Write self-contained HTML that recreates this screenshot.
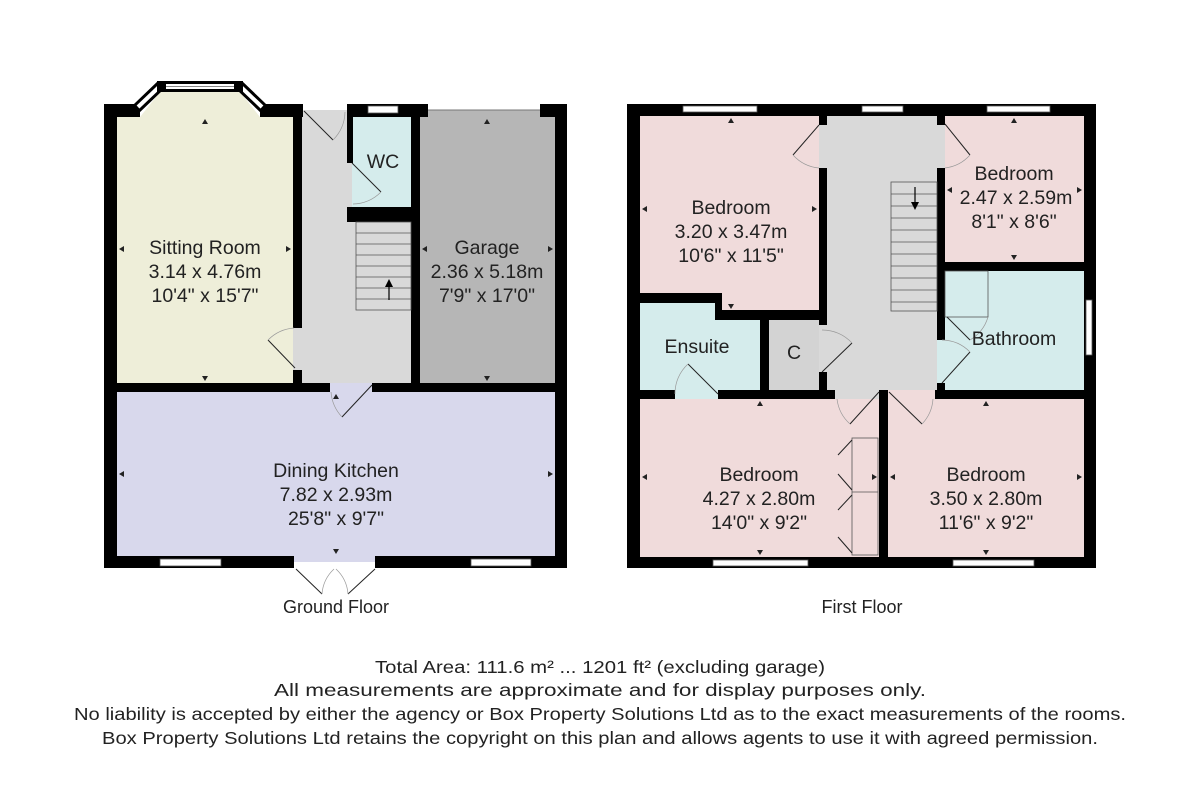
<!DOCTYPE html>
<html><head><meta charset="utf-8"><style>
html,body{margin:0;padding:0;background:#fff;}
svg{display:block;}
text{font-family:"Liberation Sans",Arial,sans-serif;fill:#222;text-anchor:middle;}
</style></head><body>
<svg width="1200" height="807" viewBox="0 0 1200 807" xmlns="http://www.w3.org/2000/svg">
<rect width="1200" height="807" fill="#fff"/>

<!-- ===== GROUND FLOOR ===== -->
<polygon points="117,117 140,117 160,92 240,92 260,117 293,117 293,383 117,383" fill="#eeeed9"/>
<rect x="293" y="110" width="119" height="273" fill="#d9d9d9"/>
<rect x="352" y="117" width="59" height="95" fill="#d5ecec"/>
<rect x="420" y="110" width="135" height="273" fill="#b6b6b6"/>
<rect x="117" y="383" width="438" height="173" fill="#d8d8ec"/>
<rect x="294" y="556" width="81" height="6" fill="#d8d8ec"/>

<g fill="#000">
<rect x="104" y="104" width="13" height="464"/>
<rect x="104" y="104" width="36" height="13"/>
<rect x="260" y="104" width="43" height="13"/>
<rect x="347" y="104" width="81" height="13"/>
<rect x="540" y="104" width="27" height="13"/>
<rect x="555" y="104" width="12" height="464"/>
<rect x="104" y="556" width="190" height="12"/>
<rect x="375" y="556" width="192" height="12"/>
<rect x="293" y="104" width="9" height="224"/>
<rect x="293" y="370" width="9" height="22"/>
<rect x="347" y="104" width="6" height="59"/>
<rect x="347" y="207" width="64" height="15"/>
<rect x="411" y="104" width="9" height="288"/>
<rect x="104" y="383" width="226" height="9"/>
<rect x="372" y="383" width="195" height="9"/>
</g>
<!-- bay window -->
<g stroke-linecap="butt">
<line x1="136" y1="109" x2="161" y2="85" stroke="#000" stroke-width="10"/>
<line x1="138" y1="107" x2="159" y2="87" stroke="#fff" stroke-width="4"/>
<line x1="264" y1="109" x2="239" y2="85" stroke="#000" stroke-width="10"/>
<line x1="262" y1="107" x2="241" y2="87" stroke="#fff" stroke-width="4"/>
<rect x="157" y="81" width="86" height="11" fill="#000"/>
<rect x="166" y="84" width="68" height="5" fill="#fff"/>
<rect x="166" y="86" width="68" height="1" fill="#888"/>
</g>
<g fill="#fff" stroke="#555" stroke-width="0.8">
<rect x="368" y="106" width="30" height="7"/>
<rect x="160" y="559" width="61" height="7"/>
<rect x="471" y="559" width="60" height="7"/>
</g>
<line x1="428" y1="110" x2="540" y2="110" stroke="#777" stroke-width="1"/>
<g stroke="#555" stroke-width="0.8" fill="none">
<rect x="356" y="222" width="55" height="88"/>
<line x1="356" y1="233" x2="411" y2="233"/><line x1="356" y1="244" x2="411" y2="244"/>
<line x1="356" y1="255" x2="411" y2="255"/><line x1="356" y1="266" x2="411" y2="266"/>
<line x1="356" y1="277" x2="411" y2="277"/><line x1="356" y1="288" x2="411" y2="288"/>
<line x1="356" y1="299" x2="411" y2="299"/>
</g>
<line x1="389" y1="300" x2="389" y2="283" stroke="#000" stroke-width="1.2"/>
<polygon points="389,279 385,287 393,287" fill="#000"/>
<g stroke="#222" stroke-width="1" fill="none">
<line x1="304" y1="111" x2="333" y2="140"/>
<line x1="352" y1="163" x2="381" y2="192"/>
<line x1="268" y1="340" x2="295" y2="368"/>
<line x1="372" y1="385" x2="342" y2="417"/>
<line x1="296" y1="569" x2="322" y2="594"/>
<line x1="375" y1="569" x2="348" y2="594"/>
</g>
<g stroke="#999" stroke-width="0.7" fill="none">
<path d="M333,140 A41,41 0 0 0 345,112"/>
<path d="M381,192 A41,41 0 0 1 353,204"/>
<path d="M268,340 A41,41 0 0 1 294,328"/>
<path d="M342,417 A41,41 0 0 1 331,392"/>
<path d="M322,594 A38,38 0 0 1 334,569"/>
<path d="M348,594 A38,38 0 0 0 336,569"/>
</g>
<g fill="#222">
<polygon points="205,119 202,124 208,124"/><polygon points="205,381 202,376 208,376"/>
<polygon points="119,249 124,246 124,252"/><polygon points="291,249 286,246 286,252"/>
<polygon points="487,119 484,124 490,124"/><polygon points="487,381 484,376 490,376"/>
<polygon points="422,249 427,246 427,252"/><polygon points="553,249 548,246 548,252"/>
<polygon points="336,394 333,399 339,399"/><polygon points="336,554 333,549 339,549"/>
<polygon points="119,474 124,471 124,477"/><polygon points="553,474 548,471 548,477"/>
</g>
<g font-size="19.5">
<text x="205" y="254">Sitting Room</text>
<text x="205" y="278">3.14 x 4.76m</text>
<text x="205" y="302">10'4" x 15'7"</text>
<text x="383" y="168">WC</text>
<text x="487" y="254">Garage</text>
<text x="487" y="278">2.36 x 5.18m</text>
<text x="487" y="302">7'9" x 17'0"</text>
<text x="336" y="477">Dining Kitchen</text>
<text x="336" y="501">7.82 x 2.93m</text>
<text x="336" y="525">25'8" x 9'7"</text>
</g>
<g font-size="18">
<text x="336" y="613">Ground Floor</text>
<text x="862" y="613">First Floor</text>
</g>

<!-- ===== FIRST FLOOR ===== -->
<rect x="640" y="116" width="444" height="441" fill="#f0dbdb"/>
<rect x="819" y="116" width="126" height="274" fill="#d9d9d9"/>
<rect x="827" y="390" width="53" height="9" fill="#d9d9d9"/>
<polygon points="640,303 715,303 715,318 760,318 760,399 640,399" fill="#d5ecec"/>
<rect x="937" y="271" width="147" height="119" fill="#d5ecec"/>
<rect x="769" y="320" width="50" height="70" fill="#d3d3d3"/>

<g fill="#000">
<rect x="627" y="104" width="469" height="12"/>
<rect x="627" y="104" width="13" height="464"/>
<rect x="1084" y="104" width="12" height="464"/>
<rect x="627" y="557" width="469" height="11"/>
<rect x="819" y="116" width="8" height="9"/>
<rect x="819" y="168" width="8" height="157"/>
<rect x="819" y="372" width="8" height="20"/>
<rect x="937" y="116" width="8" height="9"/>
<rect x="937" y="168" width="8" height="172"/>
<rect x="937" y="383" width="8" height="9"/>
<rect x="945" y="262" width="139" height="9"/>
<rect x="640" y="293" width="82" height="10"/>
<rect x="715" y="293" width="7" height="27"/>
<rect x="715" y="310" width="112" height="10"/>
<rect x="760" y="318" width="9" height="72"/>
<rect x="640" y="390" width="35" height="9"/>
<rect x="718" y="390" width="117" height="9"/>
<rect x="935" y="390" width="149" height="9"/>
<rect x="879" y="390" width="9" height="167"/>
</g>
<g fill="#fff" stroke="#555" stroke-width="0.8">
<rect x="683" y="106" width="74" height="6"/>
<rect x="862" y="106" width="41" height="6"/>
<rect x="987" y="106" width="63" height="6"/>
<rect x="713" y="560" width="95" height="6"/>
<rect x="953" y="560" width="81" height="6"/>
<rect x="1086" y="300" width="6" height="55"/>
</g>
<g stroke="#555" stroke-width="0.8" fill="none">
<rect x="891" y="182" width="46" height="129"/>
<line x1="891" y1="194" x2="937" y2="194"/><line x1="891" y1="206" x2="937" y2="206"/>
<line x1="891" y1="218" x2="937" y2="218"/><line x1="891" y1="230" x2="937" y2="230"/>
<line x1="891" y1="242" x2="937" y2="242"/><line x1="891" y1="254" x2="937" y2="254"/>
<line x1="891" y1="266" x2="937" y2="266"/><line x1="891" y1="278" x2="937" y2="278"/>
<line x1="891" y1="290" x2="937" y2="290"/><line x1="891" y1="302" x2="937" y2="302"/>
<rect x="945" y="271" width="43" height="46"/>
<rect x="852" y="438" width="26" height="117"/>
<line x1="852" y1="492" x2="878" y2="492"/>
</g>
<line x1="915" y1="187" x2="915" y2="204" stroke="#000" stroke-width="1.2"/>
<polygon points="915,210 911,202 919,202" fill="#000"/>
<g stroke="#222" stroke-width="1" fill="none">
<line x1="819" y1="125" x2="793" y2="155"/>
<line x1="945" y1="124" x2="970" y2="155"/>
<line x1="822" y1="372" x2="852" y2="343"/>
<line x1="942" y1="383" x2="970" y2="352"/>
<line x1="947" y1="317" x2="970" y2="340"/>
<line x1="688" y1="364" x2="718" y2="394"/>
<line x1="879" y1="392" x2="850" y2="424"/>
<line x1="889" y1="392" x2="922" y2="424"/>
<line x1="852" y1="440" x2="838" y2="455"/>
<line x1="852" y1="490" x2="838" y2="474"/>
<line x1="852" y1="495" x2="838" y2="510"/>
<line x1="852" y1="553" x2="838" y2="537"/>
</g>
<g stroke="#999" stroke-width="0.7" fill="none">
<path d="M793,155 A40,40 0 0 0 819,168"/>
<path d="M970,155 A40,40 0 0 1 945,168"/>
<path d="M852,343 A40,40 0 0 0 822,330"/>
<path d="M970,352 A40,40 0 0 0 942,340"/>
<path d="M988,317 A40,40 0 0 1 970,340"/>
<path d="M688,364 A40,40 0 0 0 675,394"/>
<path d="M850,424 A40,40 0 0 1 837,399"/>
<path d="M922,424 A40,40 0 0 0 933,399"/>
</g>
<g fill="#222">
<polygon points="731,118 728,123 734,123"/><polygon points="731,309 728,304 734,304"/>
<polygon points="642,209 647,206 647,212"/><polygon points="817,209 812,206 812,212"/>
<polygon points="1014,118 1011,123 1017,123"/><polygon points="1014,260 1011,255 1017,255"/>
<polygon points="947,190 952,187 952,193"/><polygon points="1082,190 1077,187 1077,193"/>
<polygon points="760,401 757,406 763,406"/><polygon points="760,555 757,550 763,550"/>
<polygon points="642,477 647,474 647,480"/><polygon points="877,477 872,474 872,480"/>
<polygon points="986,401 983,406 989,406"/><polygon points="986,555 983,550 989,550"/>
<polygon points="890,477 895,474 895,480"/><polygon points="1082,477 1077,474 1077,480"/>
</g>
<g font-size="19.5">
<text x="731" y="214">Bedroom</text>
<text x="731" y="238">3.20 x 3.47m</text>
<text x="731" y="262">10'6" x 11'5"</text>
<text x="1014" y="180">Bedroom</text>
<text x="1016" y="204">2.47 x 2.59m</text>
<text x="1014" y="228">8'1" x 8'6"</text>
<text x="697" y="353">Ensuite</text>
<text x="794" y="359">C</text>
<text x="1014" y="345">Bathroom</text>
<text x="759" y="481">Bedroom</text>
<text x="759" y="505">4.27 x 2.80m</text>
<text x="759" y="529">14'0" x 9'2"</text>
<text x="986" y="481">Bedroom</text>
<text x="986" y="505">3.50 x 2.80m</text>
<text x="986" y="529">11'6" x 9'2"</text>
</g>

<g font-size="17.5">
<text x="600" y="673" textLength="450" lengthAdjust="spacingAndGlyphs">Total Area: 111.6 m² ... 1201 ft² (excluding garage)</text>
<text x="600" y="696" textLength="652" lengthAdjust="spacingAndGlyphs">All measurements are approximate and for display purposes only.</text>
<text x="600" y="720" textLength="1052" lengthAdjust="spacingAndGlyphs">No liability is accepted by either the agency or Box Property Solutions Ltd as to the exact measurements of the rooms.</text>
<text x="600" y="744" textLength="996" lengthAdjust="spacingAndGlyphs">Box Property Solutions Ltd retains the copyright on this plan and allows agents to use it with agreed permission.</text>
</g>
</svg>
</body></html>
